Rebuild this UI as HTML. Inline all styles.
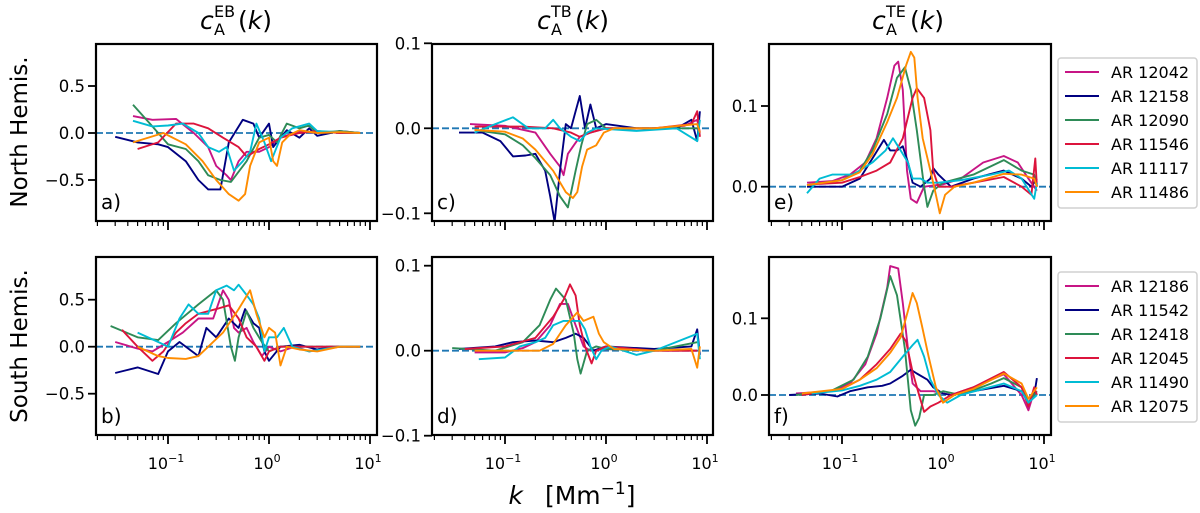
<!DOCTYPE html>
<html><head><meta charset="utf-8"><style>
html,body{margin:0;padding:0;background:#fff}
svg{display:block;font-family:"DejaVu Sans","Liberation Sans",sans-serif}
</style></head><body>
<svg id="chart" width="1200" height="513" viewBox="0 0 1200 513" xmlns="http://www.w3.org/2000/svg"></svg>
<script>
const colors=["#c71585","#000080","#2e8b57","#dc143c","#00bcd4","#ff8c00"];
const legendNorth=["AR 12042","AR 12158","AR 12090","AR 11546","AR 11117","AR 11486"];
const legendSouth=["AR 12186","AR 11542","AR 12418","AR 12045","AR 11490","AR 12075"];
const seriesA=[
[[0.045,0.18],[0.07,0.14],[0.12,0.15],[0.18,0.0],[0.25,-0.15],[0.3,-0.35],[0.38,-0.45],[0.42,-0.5],[0.5,-0.3],[0.6,-0.2],[0.8,-0.2],[1.0,-0.15],[1.3,-0.05],[2,0.02],[3,0.0],[5,0.01],[8,0]],
[[0.03,-0.04],[0.05,-0.1],[0.08,-0.12],[0.1,-0.15],[0.15,-0.3],[0.2,-0.5],[0.25,-0.6],[0.33,-0.6],[0.4,-0.1],[0.55,0.14],[0.7,0.1],[0.8,-0.05],[1.0,0.1],[1.1,-0.15],[1.3,-0.05],[1.5,0.03],[2,-0.05],[2.5,0.05],[3,-0.03],[5,0.02],[8,0]],
[[0.045,0.3],[0.07,0.07],[0.1,-0.12],[0.15,-0.17],[0.2,-0.3],[0.25,-0.45],[0.33,-0.5],[0.42,-0.52],[0.6,-0.3],[0.8,-0.05],[1.0,-0.02],[1.2,-0.1],[1.5,0.1],[2,0.05],[2.5,0.08],[3,0.0],[5,0.02],[8,0]],
[[0.05,-0.17],[0.08,-0.1],[0.12,0.1],[0.18,0.1],[0.25,0.05],[0.35,-0.05],[0.5,-0.15],[0.6,-0.25],[0.8,-0.17],[1.0,-0.12],[1.3,-0.05],[2,0.0],[3,0.02],[5,0],[8,0]],
[[0.045,0.13],[0.07,0.07],[0.1,0.08],[0.14,0.1],[0.2,0.0],[0.25,-0.15],[0.32,-0.2],[0.38,-0.15],[0.45,-0.4],[0.55,-0.3],[0.65,-0.2],[0.75,0.1],[0.9,-0.1],[1.05,-0.3],[1.3,-0.05],[1.7,0.05],[2.5,0.1],[3,0.02],[5,0.01],[8,0]],
[[0.045,-0.1],[0.09,0.0],[0.15,-0.12],[0.22,-0.3],[0.3,-0.5],[0.4,-0.65],[0.5,-0.72],[0.58,-0.65],[0.65,-0.35],[0.8,-0.1],[1.0,-0.05],[1.1,-0.3],[1.2,-0.35],[1.35,-0.1],[1.6,-0.02],[2,0.03],[3,0.0],[5,0.01],[8,0]]];
const seriesB=[
[[0.03,0.05],[0.05,-0.02],[0.07,-0.05],[0.1,0.05],[0.14,0.15],[0.2,0.3],[0.28,0.3],[0.35,0.6],[0.4,0.5],[0.45,0.2],[0.5,0.15],[0.6,0.2],[0.7,0.05],[0.85,-0.1],[1.0,0.0],[1.3,-0.05],[1.8,0],[2.5,-0.05],[4,0],[8,0]],
[[0.03,-0.28],[0.05,-0.22],[0.08,-0.29],[0.1,-0.05],[0.13,0.05],[0.2,-0.1],[0.24,0.2],[0.3,0.1],[0.4,0.3],[0.5,0.2],[0.58,0.4],[0.7,0.25],[0.8,0.2],[0.9,-0.05],[1.0,-0.15],[1.3,0.0],[2,0.02],[3,-0.03],[5,0],[8,0]],
[[0.027,0.22],[0.05,0.1],[0.08,0.07],[0.12,0.25],[0.2,0.45],[0.3,0.6],[0.35,0.5],[0.42,0.0],[0.46,-0.15],[0.5,0.1],[0.6,0.38],[0.7,0.2],[0.85,0.05],[1.0,-0.05],[1.3,0.0],[2,0.0],[5,0.0],[8,0]],
[[0.035,0.18],[0.05,0.0],[0.07,-0.15],[0.09,-0.05],[0.12,0.15],[0.15,0.25],[0.2,0.35],[0.3,0.4],[0.4,0.44],[0.5,0.3],[0.6,0.1],[0.75,0.0],[0.9,-0.15],[1.0,-0.05],[1.3,0.0],[2,0],[5,0],[8,0]],
[[0.05,0.15],[0.08,0.05],[0.1,0.0],[0.13,0.3],[0.16,0.45],[0.2,0.35],[0.25,0.35],[0.3,0.6],[0.38,0.65],[0.45,0.6],[0.5,0.66],[0.6,0.55],[0.7,0.45],[0.8,0.3],[0.9,-0.05],[1.0,0.1],[1.2,0.1],[1.4,0.2],[1.7,0.0],[2.5,-0.05],[5,0],[8,0]],
[[0.05,0.0],[0.08,-0.1],[0.1,-0.12],[0.15,-0.13],[0.2,-0.1],[0.25,0.0],[0.35,0.15],[0.5,0.4],[0.65,0.6],[0.75,0.35],[0.9,0.1],[1.0,0.2],[1.15,0.15],[1.3,-0.2],[1.5,0.0],[2,-0.03],[3,-0.05],[5,0],[8,0]]];
const seriesC=[
[[0.045,0.005],[0.1,0.003],[0.2,-0.005],[0.28,-0.03],[0.35,-0.045],[0.38,-0.055],[0.42,-0.03],[0.48,-0.02],[0.55,-0.01],[0.7,-0.005],[1,0],[3,0],[6,0.003],[8,0.01],[8.5,-0.005]],
[[0.035,-0.005],[0.06,-0.005],[0.09,-0.015],[0.12,-0.033],[0.16,-0.032],[0.2,-0.03],[0.25,-0.05],[0.28,-0.08],[0.31,-0.11],[0.35,-0.05],[0.4,0.005],[0.45,0.0],[0.5,0.02],[0.55,0.038],[0.62,0.0],[0.7,0.028],[0.8,0.0],[1,0.005],[2,0.0],[5,0.0],[7,0.01],[8,-0.015],[8.5,0.02]],
[[0.05,-0.002],[0.1,-0.007],[0.15,-0.02],[0.2,-0.035],[0.28,-0.055],[0.35,-0.08],[0.42,-0.093],[0.5,-0.05],[0.57,-0.02],[0.65,0.005],[0.8,0.01],[1,0.0],[3,0],[8,0]],
[[0.05,0.002],[0.15,0.002],[0.3,0.0],[0.45,-0.005],[0.55,-0.01],[0.7,-0.005],[1,0],[3,0],[7,0.005],[8,0.02],[8.5,-0.01]],
[[0.05,-0.005],[0.08,0.005],[0.12,0.013],[0.17,0.0],[0.25,0.0],[0.3,0.01],[0.35,0.0],[0.45,-0.01],[0.55,-0.015],[0.65,-0.005],[0.8,0.0],[2,-0.003],[5,0],[8,-0.015],[8.5,0.01]],
[[0.05,-0.002],[0.1,-0.004],[0.15,-0.012],[0.2,-0.025],[0.3,-0.05],[0.4,-0.075],[0.47,-0.082],[0.52,-0.075],[0.58,-0.045],[0.65,-0.025],[0.8,-0.02],[0.95,-0.005],[1.2,0.0],[3,0],[8,0.005],[8.5,-0.005]]];
const seriesD=[
[[0.05,-0.002],[0.1,-0.002],[0.15,0.003],[0.2,0.01],[0.28,0.03],[0.35,0.055],[0.42,0.055],[0.5,0.03],[0.6,0.005],[0.7,0.0],[1,0.002],[3,0],[8,0]],
[[0.035,0.002],[0.08,0.005],[0.12,0.01],[0.2,0.012],[0.3,0.01],[0.4,0.015],[0.5,0.02],[0.6,0.015],[0.75,0.0],[1,0.005],[3,0.002],[7,0.005],[8,0.025],[8.5,-0.005]],
[[0.03,0.003],[0.08,0.0],[0.15,0.01],[0.22,0.03],[0.28,0.06],[0.32,0.073],[0.4,0.06],[0.48,0.02],[0.52,-0.01],[0.56,-0.027],[0.65,0.0],[0.8,0.005],[1,0.002],[3,0],[8,0.01]],
[[0.04,0.002],[0.1,0.005],[0.2,0.015],[0.3,0.04],[0.38,0.06],[0.44,0.078],[0.5,0.065],[0.55,0.03],[0.62,0.005],[0.72,-0.015],[0.8,0.0],[1,0.005],[3,0],[8,0]],
[[0.055,-0.01],[0.1,-0.008],[0.14,0.005],[0.2,0.01],[0.25,0.015],[0.3,0.03],[0.38,0.035],[0.45,0.035],[0.55,0.035],[0.62,0.025],[0.7,0.005],[0.8,-0.01],[0.9,0.0],[1.1,0.005],[2,-0.005],[3,0],[8,0.02],[8.5,-0.01]],
[[0.05,0.0],[0.15,0.0],[0.22,0.0],[0.3,0.008],[0.4,0.03],[0.52,0.045],[0.6,0.035],[0.75,0.04],[0.85,0.02],[0.95,0.01],[1.2,0.002],[3,0],[7,0.002],[8,-0.02],[8.5,0.005]]];
const seriesE=[
[[0.045,0.005],[0.08,0.007],[0.12,0.015],[0.17,0.03],[0.22,0.06],[0.28,0.11],[0.33,0.15],[0.36,0.155],[0.4,0.12],[0.44,0.02],[0.48,-0.015],[0.55,-0.02],[0.65,0.0],[1,0.003],[1.5,0.01],[2.5,0.03],[4,0.038],[5.5,0.03],[7,0.01],[8.5,-0.005]],
[[0.045,0.0],[0.1,0.0],[0.15,0.01],[0.2,0.035],[0.26,0.058],[0.3,0.045],[0.35,0.045],[0.4,0.05],[0.45,0.03],[0.5,0.005],[0.6,0.0],[0.75,0.01],[0.8,0.023],[0.9,0.015],[1.2,0.0],[2,0.01],[4,0.02],[6,0.01],[7.5,0.0],[8.5,0.01]],
[[0.045,0.002],[0.1,0.008],[0.15,0.02],[0.2,0.045],[0.28,0.09],[0.35,0.135],[0.42,0.148],[0.48,0.12],[0.55,0.07],[0.65,0.0],[0.7,-0.025],[0.8,-0.005],[1,0.005],[2,0.015],[4,0.033],[6,0.02],[8,0.015],[8.5,0.0]],
[[0.05,0.003],[0.1,0.005],[0.15,0.012],[0.22,0.02],[0.3,0.03],[0.4,0.06],[0.5,0.11],[0.55,0.122],[0.65,0.11],[0.75,0.07],[0.8,0.02],[0.9,0.0],[1.2,0.0],[2,0.005],[4,0.012],[6,0.0],[7.5,-0.01],[8.2,0.035],[8.5,0.0]],
[[0.045,-0.008],[0.06,0.01],[0.08,0.015],[0.13,0.015],[0.2,0.03],[0.27,0.045],[0.32,0.06],[0.38,0.045],[0.45,0.03],[0.5,0.01],[0.6,0.01],[0.7,0.005],[0.9,0.005],[1.5,0.008],[3,0.015],[4.5,0.02],[6,0.01],[8,-0.015],[8.5,0.005]],
[[0.045,0.002],[0.1,0.008],[0.15,0.018],[0.2,0.04],[0.28,0.08],[0.35,0.11],[0.43,0.15],[0.48,0.167],[0.52,0.16],[0.56,0.11],[0.63,0.06],[0.75,0.02],[0.85,-0.01],[0.93,-0.033],[1.05,-0.01],[1.3,0.0],[2,0.005],[4,0.016],[6,0.015],[8,0.01],[8.5,0.0]]];
const seriesF=[
[[0.035,0.002],[0.08,0.005],[0.12,0.015],[0.17,0.04],[0.22,0.08],[0.28,0.14],[0.3,0.168],[0.36,0.165],[0.4,0.12],[0.45,0.06],[0.5,0.015],[0.6,0.005],[0.8,0.005],[1.2,0.0],[2,0.01],[4,0.027],[6,0.0],[7,-0.02],[8,0.005],[8.5,0.0]],
[[0.03,0.0],[0.06,0.002],[0.09,-0.002],[0.12,0.005],[0.18,0.01],[0.25,0.012],[0.3,0.015],[0.4,0.025],[0.48,0.033],[0.55,0.028],[0.7,0.02],[0.8,0.01],[1,0.002],[1.2,0.0],[2,0.005],[4,0.012],[6,0.005],[7,-0.01],[8,0.0],[8.5,0.022]],
[[0.035,0.0],[0.08,0.006],[0.13,0.02],[0.18,0.05],[0.24,0.1],[0.3,0.155],[0.35,0.13],[0.42,0.06],[0.48,-0.02],[0.53,-0.04],[0.58,-0.03],[0.65,0.0],[0.8,0.0],[1,0.005],[1.5,0.0],[3,0.015],[4,0.022],[6,0.01],[7,-0.01],[8.5,0.005]],
[[0.04,0.0],[0.1,0.008],[0.15,0.02],[0.22,0.04],[0.3,0.06],[0.38,0.08],[0.43,0.07],[0.5,0.03],[0.58,0.0],[0.65,-0.022],[0.75,-0.015],[0.9,-0.01],[1.2,0.0],[2,0.01],[4,0.03],[6,0.01],[7,-0.015],[8,0.01],[8.5,0.0]],
[[0.05,0.002],[0.1,0.006],[0.15,0.012],[0.22,0.02],[0.3,0.03],[0.4,0.05],[0.5,0.065],[0.56,0.072],[0.65,0.05],[0.75,0.02],[0.9,0.0],[1.1,-0.01],[1.5,0.0],[2.5,0.008],[4,0.015],[6,0.005],[7,-0.01],[8.5,0.0]],
[[0.04,0.002],[0.1,0.008],[0.15,0.02],[0.22,0.035],[0.3,0.055],[0.38,0.075],[0.45,0.11],[0.5,0.133],[0.55,0.12],[0.62,0.09],[0.72,0.05],[0.85,0.01],[1.0,-0.01],[1.3,0.0],[2,0.008],[4,0.028],[6,0.015],[7,-0.005],[8.5,0.01]]];
const ticksAB=[0.5,0,-0.5], ticksCD=[0.1,0,-0.1], ticksEF=[0.1,0];
const xTickExps=[-1,0,1];

const svg=document.getElementById('chart');
const NS="http://www.w3.org/2000/svg";
function mk(tag,attrs,parent){const e=document.createElementNS(NS,tag);for(const k in attrs)e.setAttribute(k,attrs[k]);(parent||svg).appendChild(e);return e;}

const panels=[
 {id:'a',L:96,R:377,T:44,B:221,x1:168,dec:101,y0:133,ppu:94,data:seriesA,ticks:ticksAB},
 {id:'b',L:96,R:377,T:257,B:435,x1:168,dec:101,y0:346.7,ppu:94,data:seriesB,ticks:ticksAB},
 {id:'c',L:432,R:713,T:44,B:221,x1:505,dec:101,y0:128.3,ppu:850,data:seriesC,ticks:ticksCD},
 {id:'d',L:432,R:713,T:257,B:435,x1:505,dec:101,y0:350.7,ppu:850,data:seriesD,ticks:ticksCD},
 {id:'e',L:769,R:1051,T:44,B:221,x1:842,dec:101,y0:186.7,ppu:807,data:seriesE,ticks:ticksEF},
 {id:'f',L:769,R:1051,T:257,B:435,x1:842,dec:101,y0:395,ppu:767,data:seriesF,ticks:ticksEF}];
const seriesNames=['magenta','navy','green','crimson','cyan','orange'];

panels.forEach((p)=>{
 const xs=k=>p.x1+(Math.log10(k)+1)*p.dec;
 const ys=v=>p.y0-v*p.ppu;
 const g=mk('g',{});
 
 
 const cp=mk('clipPath',{id:'clip'+p.id},g);
 mk('rect',{x:p.L,y:p.T,width:p.R-p.L,height:p.B-p.T},cp);
 const zl=mk('line',{x1:p.L,x2:p.R,y1:ys(0),y2:ys(0),stroke:'#1f77b4','stroke-width':1.8,'stroke-dasharray':'7,3'},g);
 
 
 p.data.forEach((s,si)=>{
  const pl=mk('polyline',{points:s.map(d=>xs(d[0]).toFixed(1)+','+ys(d[1]).toFixed(1)).join(' '),fill:'none',stroke:colors[si],'stroke-width':1.9,'stroke-linejoin':'round','clip-path':'url(#clip'+p.id+')'},g);
  
  
 });
 const fr=mk('rect',{x:p.L,y:p.T,width:p.R-p.L,height:p.B-p.T,fill:'none',stroke:'#000','stroke-width':2.2},g);
 
 
 for(let e=-2;e<=1;e++){for(let m=1;m<=9;m++){const k=m*Math.pow(10,e);const x=xs(k);if(x<p.L-0.5||x>p.R+0.5)continue;
   mk('line',{x1:x,x2:x,y1:p.B+1,y2:p.B+(m===1?9:5),stroke:'#000','stroke-width':m===1?1.8:1.2},g);}}
 if(p.B>300){xTickExps.forEach(e=>{const t=mk('text',{x:xs(Math.pow(10,e))-2,y:p.B+34,'text-anchor':'middle','font-size':16},g);
   
   
   t.textContent='10';const sp=mk('tspan',{'font-size':11,dy:-7},t);sp.textContent=e<0?'\u2212'+(-e):String(e);});}
 p.ticks.forEach(v=>{const y=ys(v);mk('line',{x1:p.L-8,x2:p.L,y1:y,y2:y,stroke:'#000','stroke-width':1.8},g);
  const t=mk('text',{x:p.L-11,y:y+6,'text-anchor':'end','font-size':16.5},g);
  
  
  t.textContent=v.toFixed(1).replace('-','\u2212');});
 const lb=mk('text',{x:p.L+5,y:p.B-12,'font-size':20},g);
 
 
 lb.textContent=p.id+')';
});

// titles
[['EB',200,'title-eb'],['TB',537,'title-tb'],['TE',872,'title-te']].forEach(([s,x,n])=>{
 const g=mk('g',{'font-size':25});
 
 
 const c=mk('text',{x:x,y:29,'font-style':'italic'},g);c.textContent='c';
 const sup=mk('text',{x:x+14,y:17,'font-size':16},g);sup.textContent=s;
 const sub=mk('text',{x:x+14,y:35,'font-size':16},g);sub.textContent='A';
 const r=mk('text',{x:x+38,y:29},g);
 const r1=mk('tspan',{},r);r1.textContent='(';
 const r2=mk('tspan',{'font-style':'italic'},r);r2.textContent='k';
 const r3=mk('tspan',{},r);r3.textContent=')';
});
[['North Hemis.',132,'row-label-north'],['South Hemis.',346,'row-label-south']].forEach(([s,y,n])=>{
 const t=mk('text',{x:0,y:0,'text-anchor':'middle','font-size':23,transform:'translate(27,'+y+') rotate(-90)'});
 
 
 t.textContent=s;
});
const xl=mk('text',{x:572,y:504,'text-anchor':'middle','font-size':25});


const xa=mk('tspan',{'font-style':'italic'},xl);xa.textContent='k';
const xb=mk('tspan',{dx:22},xl);xb.textContent='[Mm';
const xc=mk('tspan',{'font-size':17,dy:-10},xl);xc.textContent='\u22121';
const xd=mk('tspan',{dy:10},xl);xd.textContent=']';

[[legendNorth,58,'legend-north'],[legendSouth,272,'legend-south']].forEach(([names,top,n])=>{
 const g=mk('g',{});
 
 
 mk('rect',{x:1058,y:top,width:139,height:150,rx:3,fill:'#fff',stroke:'#d0d0d0','stroke-width':1.5},g);
 names.forEach((nm,i)=>{const y=top+14+i*24;
  mk('line',{x1:1065,x2:1099,y1:y,y2:y,stroke:colors[i],'stroke-width':2},g);
  const t=mk('text',{x:1111,y:y+6,'font-size':16},g);
  
  
  t.textContent=nm;});
});
</script>
</body></html>
